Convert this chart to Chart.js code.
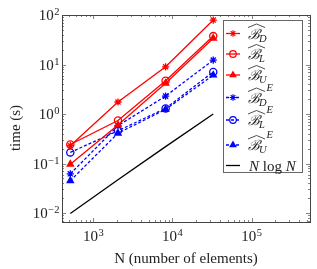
<!DOCTYPE html>
<html><head><meta charset="utf-8">
<script src="https://cdn.jsdelivr.net/npm/chart.js@4/dist/chart.umd.min.js"></script>
<style>html,body{margin:0;padding:0;background:#fff}</style>
</head><body>
<canvas id="c" width="317" height="269"></canvas>
<script>
const N = [512, 2048, 8192, 32768];
const bD = [0.23, 1.75, 9.0, 79];
const bL = [0.243, 0.74, 4.7, 37.5];
const bU = [0.097, 0.6, 4.2, 34];
const bDE = [0.062, 0.58, 2.3, 12.3];
const bLE = [0.168, 0.46, 1.3, 7.1];
const bUE = [0.045, 0.41, 1.24, 6.1];
const nlogn = [0.0098, 0.047, 0.22, 1.0];
const seriesNames = ['B_D', 'B_L', 'B_U', 'B_D^E', 'B_L^E', 'B_U^E', 'N log N'];
const legendSub = ['D', 'L', 'U', 'D', 'L', 'U', ''];
const legendSup = ['', '', '', 'E', 'E', 'E', ''];
const xTickExp = [3, 4, 5];
const yTickExp = [-2, -1, 0, 1, 2];
const xLabel = 'N (number of elements)';
const yLabel = 'time (s)';

const RED = 'rgb(255,0,0)', BLUE = 'rgb(0,0,255)';
const SERIF = "'Liberation Serif', 'DejaVu Serif', serif";

function ds(label, data, color, style, dashed, filled) {
  return {
    label, data: data.map((v, i) => ({x: N[i], y: v})),
    borderColor: color, backgroundColor: filled ? color : 'rgba(0,0,0,0)',
    borderWidth: 1.3, borderDash: dashed ? [3, 2] : [],
    pointStyle: style, pointRadius: style === false ? 0 : 3.6,
    pointBorderWidth: 1.3, pointBorderColor: color,
    pointBackgroundColor: filled ? color : 'rgba(0,0,0,0)',
    tension: 0, fill: false
  };
}
const datasets = [
  ds(seriesNames[0], bD, RED, 'star', false, false),
  ds(seriesNames[1], bL, RED, 'circle', false, false),
  ds(seriesNames[2], bU, RED, 'triangle', false, true),
  ds(seriesNames[3], bDE, BLUE, 'star', true, false),
  ds(seriesNames[4], bLE, BLUE, 'circle', true, false),
  ds(seriesNames[5], bUE, BLUE, 'triangle', true, true),
  ds(seriesNames[6], nlogn, '#000', false, false, false)
];
const order = [0,0,0,1,1,1,2];
datasets.forEach((d, i) => d.order = order[i]);

function line(ctx, x1, y1, x2, y2) { ctx.beginPath(); ctx.moveTo(x1, y1); ctx.lineTo(x2, y2); ctx.stroke(); }

function powLabel(ctx, exp, x, y, align) {
  const base = '10', e = exp < 0 ? '\u2212' + (-exp) : String(exp);
  ctx.font = '15px ' + SERIF;
  const wb = ctx.measureText(base).width;
  ctx.font = '10.5px ' + SERIF;
  const we = ctx.measureText(e).width;
  const w = wb + we + 0.5;
  let x0 = align === 'right' ? x - w : x - w / 2;
  ctx.textAlign = 'left'; ctx.textBaseline = 'alphabetic';
  ctx.font = '15px ' + SERIF; ctx.fillText(base, x0, y);
  ctx.font = '10.5px ' + SERIF; ctx.fillText(e, x0 + wb + 0.5, y - 4.8);
}

const framePlugin = {
  id: 'frame',
  beforeDatasetsDraw(chart) {
    const {ctx, chartArea: a, scales: {x, y}} = chart;
    ctx.save();
    ctx.strokeStyle = '#666'; ctx.lineWidth = 0.8;
    for (let e = 2; e <= 5; e++) for (let m = 1; m < 10; m++) {
      const v = m * Math.pow(10, e);
      if (v < x.min || v > x.max) continue;
      const px = Math.round(x.getPixelForValue(v)) + 0.5, L = m === 1 ? 4 : 2;
      line(ctx, px, a.bottom, px, a.bottom - L); line(ctx, px, a.top, px, a.top + L);
    }
    for (let e = -3; e <= 2; e++) for (let m = 1; m < 10; m++) {
      const v = m * Math.pow(10, e);
      if (v < y.min || v > y.max) continue;
      const py = Math.round(y.getPixelForValue(v)) + 0.5, L = m === 1 ? 4 : 2;
      line(ctx, a.left, py, a.left + L, py); line(ctx, a.right, py, a.right - L, py);
    }
    ctx.strokeStyle = '#444'; ctx.lineWidth = 1;
    ctx.strokeRect(Math.round(a.left) + 0.5, Math.round(a.top) + 0.5, Math.round(a.right - a.left), Math.round(a.bottom - a.top));
    ctx.restore();
  },
  afterDraw(chart) {
    const {ctx, chartArea: a, scales: {x, y}} = chart;
    ctx.save();
    ctx.fillStyle = '#222';
    xTickExp.forEach(e => powLabel(ctx, e, x.getPixelForValue(Math.pow(10, e)), 240.5, 'center'));
    yTickExp.forEach(e => powLabel(ctx, e, 59.5, y.getPixelForValue(Math.pow(10, e)) + 5, 'right'));
    ctx.font = '15px ' + SERIF; ctx.textAlign = 'center'; ctx.textBaseline = 'alphabetic';
    ctx.fillText(xLabel, 186, 263);
    ctx.save(); ctx.translate(20, 128); ctx.rotate(-Math.PI / 2);
    ctx.fillText(yLabel, 0, 0); ctx.restore();

    // legend
    const bx = 223.5, by = 20.5, bw = 79, bh = 152;
    ctx.fillStyle = '#fff'; ctx.fillRect(bx, by, bw, bh);
    ctx.strokeStyle = '#666'; ctx.lineWidth = 1; ctx.strokeRect(bx, by, bw, bh);
    const rows = [33.5, 54, 75, 97.5, 120, 145, 165.5];
    chart.data.datasets.forEach((d, i) => {
      const cy = rows[i];
      ctx.strokeStyle = d.borderColor; ctx.lineWidth = d.borderWidth;
      ctx.setLineDash(d.borderDash);
      line(ctx, 226, cy, 240, cy);
      ctx.setLineDash([]);
      if (d.pointStyle) {
        ctx.fillStyle = d.pointBackgroundColor; ctx.strokeStyle = d.borderColor; ctx.lineWidth = 1.2;
        Chart.helpers.drawPoint(ctx, {pointStyle: d.pointStyle, radius: 3.3, borderWidth: 1.2, rotation: 0}, 233, cy);
      }
      ctx.fillStyle = '#222'; ctx.textAlign = 'left'; ctx.textBaseline = 'alphabetic';
      if (i < 6) {
        ctx.font = "italic 14px 'DejaVu Serif', serif";
        const tx = 248, base = cy + 5;
        ctx.fillText('\u212C', tx, base);
        const wB = ctx.measureText('\u212C').width;
        ctx.font = "italic 10.5px " + SERIF;
        ctx.fillText(legendSub[i], tx + wB - 1, base + 3);
        const hx1 = tx + wB + 5;
        ctx.strokeStyle = '#222'; ctx.lineWidth = 0.8;
        ctx.beginPath(); ctx.moveTo(tx, cy - 6); ctx.lineTo((tx + hx1) / 2, cy - 9.5); ctx.lineTo(hx1, cy - 6); ctx.stroke();
        if (legendSup[i]) { ctx.font = "italic 10.5px " + SERIF; ctx.fillText(legendSup[i], hx1 + 1.5, cy - 7); }
      } else {
        ctx.font = "italic 15px " + SERIF;
        let tx = 249; const base = cy + 5;
        ctx.fillText('N', tx, base); tx += ctx.measureText('N ').width;
        ctx.font = "15px " + SERIF;
        ctx.fillText('log', tx, base); tx += ctx.measureText('log ').width;
        ctx.font = "italic 15px " + SERIF;
        ctx.fillText('N', tx, base);
      }
    });
    ctx.restore();
  }
};

new Chart(document.getElementById('c'), {
  type: 'line',
  data: {datasets},
  options: {
    responsive: false, animation: false, devicePixelRatio: 1,
    layout: {padding: {left: 62, right: 7, top: 15, bottom: 47}},
    plugins: {legend: {display: false}, tooltip: {enabled: false}},
    scales: {
      x: {type: 'logarithmic', min: 402, max: 547000,
          grid: {display: false, drawTicks: false}, border: {display: false},
          ticks: {display: false}, title: {display: false}},
      y: {type: 'logarithmic', min: Math.pow(10, -2.18), max: 100,
          grid: {display: false, drawTicks: false}, border: {display: false},
          ticks: {display: false}, title: {display: false}}
    }
  },
  plugins: [framePlugin]
});
</script>
</body></html>
